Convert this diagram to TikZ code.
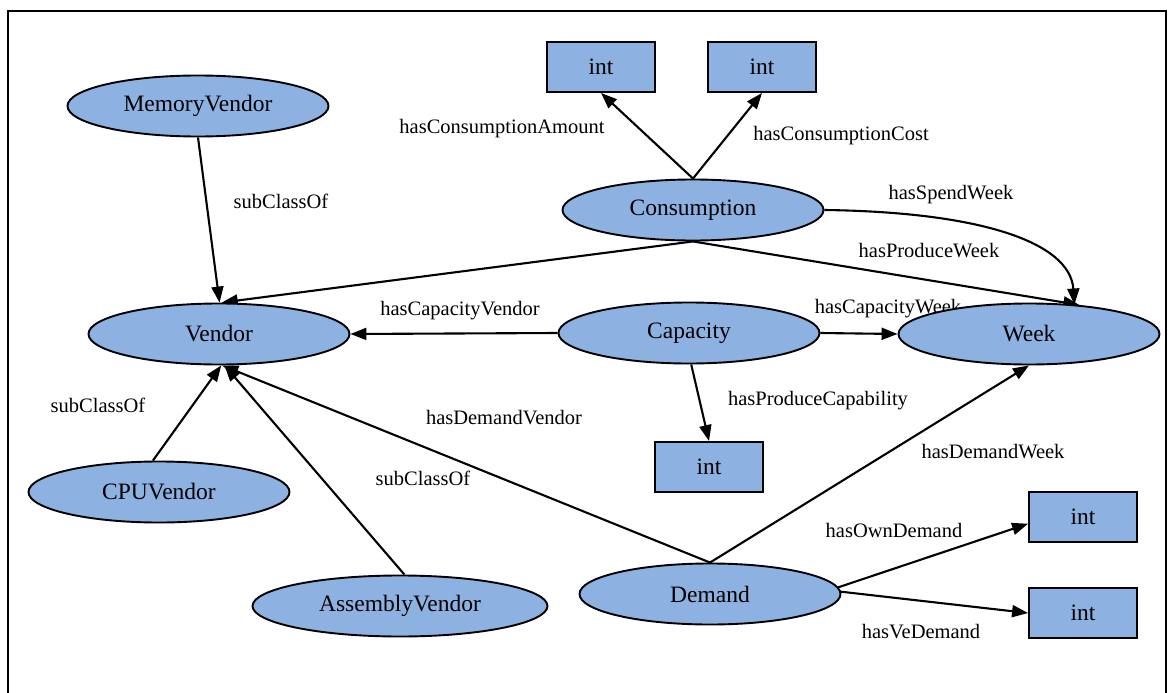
\documentclass[tikz,border=0pt]{standalone}
\usepackage{fontspec}
\setmainfont{Liberation Serif}
\usetikzlibrary{shapes.geometric,arrows.meta}
\definecolor{nodefill}{RGB}{141,178,226}
\pgfdeclarelayer{background}
\pgfsetlayers{background,main}
\tikzset{
  cls/.style={ellipse,draw=black,fill=nodefill,line width=1.9pt,inner sep=0pt,
    minimum width=261pt,minimum height=61pt,font=\fontsize{23.5}{26}\selectfont},
  lit/.style={rectangle,draw=black,fill=nodefill,line width=1.9pt,inner sep=0pt,
    minimum width=108pt,minimum height=50pt,font=\fontsize{23.5}{26}\selectfont},
  rel/.style={line width=2.1pt,-{Triangle[length=16pt,width=12pt]}},
  lbl/.style={inner sep=0pt,font=\fontsize{20.5}{23}\selectfont}
}
\begin{document}
\begin{tikzpicture}[x=1pt,y=-1pt]
\useasboundingbox (0,0) rectangle (1173,693);
\clip (0,0) rectangle (1173,693);

% classes
\node[cls] (mv) at (198,106) {MemoryVendor};
\node[cls] (vendor) at (219,334) {Vendor};
\node[cls] (cpu) at (159,492) {CPUVendor};
\node[cls,minimum width=295pt] (asm) at (400,606) {AssemblyVendor};
\node[cls] (cons) at (693,210) {Consumption};
\node[cls] (cap) at (689,333) {Capacity};
\node[cls] (week) at (1029,334) {Week};
\node[cls] (dem) at (710,594) {Demand};

% datatype values
\node[lit] (i1) at (601,67) {int};
\node[lit] (i2) at (762,67) {int};
\node[lit] (i3) at (709,467) {int};
\node[lit] (i4) at (1083,517) {int};
\node[lit] (i5) at (1083,613) {int};

\begin{pgfonlayer}{background}
  % outer frame
  \draw[line width=2pt] (8,11) rectangle (1166,720);

  % subclass links
  \draw[rel] (mv.south) -- (vendor.89);
  \draw[rel] (cpu.101) -- (vendor.-86);
  \draw[rel] (asm.82) -- (vendor.-80);
  \node[lbl] (l1) at (281,201) {subClassOf};
  \node[lbl] (l2) at (98,405) {subClassOf};
  \node[lbl] (l3) at (423,478) {subClassOf};

  % Consumption properties
  \draw[rel] (cons.north) -- (i1.south);
  \draw[rel] (cons.north) -- (i2.south);
  \draw[rel] (cons.south) -- (vendor.85);
  \draw[rel] (cons.south) -- (week.30);
  \draw[rel] (cons.east) .. controls (980,212) and (1070,242) .. (week.33);
  \node[lbl] (l4) at (502,129) {hasConsumptionAmount};
  \node[lbl] (l5) at (841,136) {hasConsumptionCost};
  \node[lbl] (l6) at (951,195) {hasSpendWeek};
  \node[lbl] (l7) at (929,251) {hasProduceWeek};

  % Capacity properties
  \draw[rel] (cap.west) -- (vendor.east);
  \draw[rel] (cap.east) -- (week.west);
  \draw[rel] (cap.-86) -- (i3.north);
  \node[lbl] (l8) at (460,311) {hasCapacityVendor};
  \node[lbl] (l9) at (888,309) {hasCapacityWeek};
  \node[lbl] (l10) at (818,401) {hasProduceCapability};

  % Demand properties
  \draw[rel] (dem.north) -- (vendor.-84);
  \draw[rel] (dem.north) -- (week.south);
  \draw[rel] (dem.3) -- (i4.187);
  \draw[rel] (dem.1) -- (i5.west);
  \node[lbl] (l11) at (504,418) {hasDemandVendor};
  \node[lbl] (l12) at (993,452) {hasDemandWeek};
  \node[lbl] (l13) at (894,530) {hasOwnDemand};
  \node[lbl] (l14) at (921,632) {hasVeDemand};
\end{pgfonlayer}
\end{tikzpicture}
\end{document}
